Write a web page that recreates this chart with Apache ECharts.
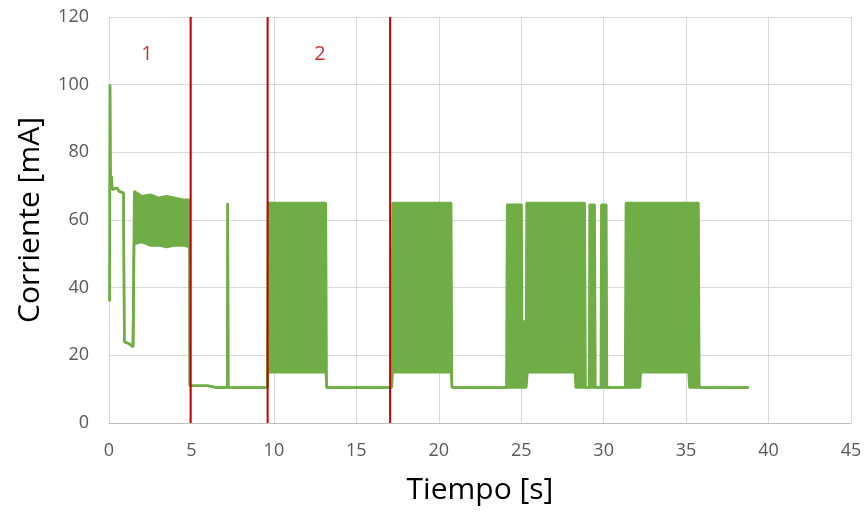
<!DOCTYPE html>
<html>
<head>
<meta charset="utf-8">
<script src="https://cdn.jsdelivr.net/npm/echarts@6/dist/echarts.min.js"></script>
<style>html,body{margin:0;padding:0;background:#fff}#c{width:866px;height:516px}</style>
</head>
<body>
<div id="c"></div>
<script>
// Time [s]
const tiempo = [0.04,0.06,0.09,0.15,0.2,0.5,0.6,0.88,0.93,1.2,1.45,1.5,
  1.53,2.0,2.5,3.0,3.5,4.0,4.5,4.88,
  4.9,6.0,6.5,7.17,7.2,7.23,9.6,
  9.65,13.15,13.2,17.15,
  17.2,20.75,20.8,24.1,
  24.15,25.02,25.05,25.3,25.33,25.38,28.27,28.3,28.85,28.9,29.12,
  29.15,29.45,29.5,29.83,29.86,30.16,30.2,31.3,
  31.35,32.2,32.25,35.15,35.2,35.75,35.8,38.8];
// Lower envelope [mA]
const corrienteMin = [36,100,72,73,69,69.5,68.5,68,24,23.5,22.5,22.5,
  53,53.5,52.5,52.5,52,52.5,52.5,52,
  11,11,10.5,10.5,65,10.5,10.5,
  15,15,10.5,10.5,
  15,15,10.5,10.5,
  10.5,10.5,10.5,10.5,10.5,15,15,10.5,10.5,10.5,10.5,
  10.5,10.5,10.5,10.5,10.5,10.5,10.5,10.5,
  10.5,10.5,15,15,10.5,10.5,10.5,10.5];
// Upper envelope [mA]
const corrienteMax = [36,100,72,73,69,69.5,68.5,68,24,23.5,22.5,22.5,
  68.5,67,67.5,66.5,67,66.5,66,66,
  11,11,10.5,10.5,65,10.5,10.5,
  65,65,10.5,10.5,
  65,65,10.5,10.5,
  64.5,64.5,30,30,65,65,65,65,65,10.5,10.5,
  64.5,64.5,10.5,10.5,64.5,64.5,10.5,10.5,
  65,65,65,65,65,65,10.5,10.5];
// Phase separators [s]
const separadores = [4.95, 9.62, 17.05];
// Phase labels
const fases = [{t: 2.3, v: 109, texto: '1'}, {t: 12.8, v: 109, texto: '2'}];
const xTicks = {min: 0, max: 45, interval: 5};
const yTicks = {min: 0, max: 120, interval: 20};

const green = '#70AD47';
const lowData = tiempo.map((t, i) => [t, corrienteMin[i]]);
const highData = tiempo.map((t, i) => [t, corrienteMax[i]]);

const series = [
  {type: 'custom', z: 2, data: [[tiempo[0], corrienteMin[0]]],
   renderItem: function (params, api) {
     const pts = [];
     for (let i = 0; i < tiempo.length; i++) pts.push(api.coord([tiempo[i], corrienteMax[i]]));
     for (let i = tiempo.length - 1; i >= 0; i--) pts.push(api.coord([tiempo[i], corrienteMin[i]]));
     return {type: 'polygon', shape: {points: pts},
       style: {fill: green, stroke: green, lineWidth: 1}};
   }},
  {type: 'line', data: lowData, symbol: 'none', z: 3,
   lineStyle: {color: green, width: 2.5}, itemStyle: {color: green}},
  {type: 'line', data: highData, symbol: 'none', z: 3,
   lineStyle: {color: green, width: 2.5}, itemStyle: {color: green}}
];
separadores.forEach(s => {
  series.push({type: 'line', data: [[s, yTicks.min], [s, yTicks.max]], symbol: 'none', z: 4,
    lineStyle: {color: '#C00000', width: 2}});
});
series.push({type: 'scatter', symbolSize: 0, z: 5,
  data: fases.map(f => ({value: [f.t, f.v], name: f.texto})),
  label: {show: true, position: 'inside', formatter: p => p.name, color: '#C00000',
    fontSize: 20, fontFamily: 'Open Sans'}});

const chart = echarts.init(document.getElementById('c'));
chart.setOption({
  animation: false,
  backgroundColor: '#fff',
  grid: {left: 109, right: 15, top: 17, bottom: 93, containLabel: false},
  xAxis: {type: 'value', min: xTicks.min, max: xTicks.max, interval: xTicks.interval,
    name: 'Tiempo [s]', nameLocation: 'middle', nameGap: 52,
    nameTextStyle: {fontSize: 30, color: '#000', fontFamily: 'Open Sans'},
    axisLine: {show: true, lineStyle: {color: '#bfbfbf', width: 1}},
    axisTick: {show: false},
    axisLabel: {fontSize: 18, color: '#595959', margin: 19, fontFamily: 'Open Sans'},
    splitLine: {show: true, lineStyle: {color: '#d9d9d9', width: 1}}},
  yAxis: {type: 'value', min: yTicks.min, max: yTicks.max, interval: yTicks.interval,
    name: 'Corriente [mA]', nameLocation: 'middle', nameGap: 64,
    nameTextStyle: {fontSize: 30, color: '#000', fontFamily: 'Open Sans'},
    axisLine: {show: false},
    axisTick: {show: false},
    axisLabel: {fontSize: 18, color: '#595959', margin: 20, fontFamily: 'Open Sans'},
    splitLine: {show: true, lineStyle: {color: '#d9d9d9', width: 1}}},
  series: series
});
</script>
</body>
</html>
